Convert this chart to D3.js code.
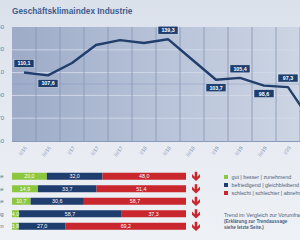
<!DOCTYPE html>
<html>
<head>
<meta charset="utf-8">
<script src="https://cdn.jsdelivr.net/npm/d3@7"></script>
<style>
  body { margin: 0; }
  svg { display: block; font-family: "Liberation Sans", Arial, sans-serif; }
</style>
</head>
<body>
<div id="chart"></div>
<script>
// Daten Linie
const periods = ["II/16", "III/16", "I/17", "II/17", "III/17", "I/18", "II/18", "III/18", "I/19", "II/19", "III/19", "I/20", "II/20"];
const indexValues = [110.1, 107.6, 118.4, 134.2, 138.5, 136.0, 139.3, 121.5, 103.7, 105.4, 98.6, 97.3, 66.0];
const labelled = ["II/16", "III/16", "II/18", "I/19", "II/19", "III/19", "I/20"];
const labelSide = ["above", "below", "above", "below", "above", "below", "above"];
const yTicks = [50, 70, 90, 110, 130, 150];

// Daten Balken
const rows = ["Geschäftslage", "Ertragslage", "Auftragslage", "Beschäftigung", "Investitionen"];
const gut = [20.0, 14.9, 10.7, 4.0, 3.8];
const befriedigend = [32.0, 33.7, 30.6, 58.7, 27.0];
const schlecht = [48.0, 51.4, 58.7, 37.3, 69.2];
const legendTexts = ["gut | besser | zunehmend", "befriedigend | gleichbleibend", "schlecht | schlechter | abnehmend"];
const colors = ["#8dc63f", "#1f3d6e", "#c9262d"];

const W = 300, H = 240;
const fmt = v => d3.format(".1f")(v).replace(".", ",");

const svg = d3.select("#chart").append("svg")
  .attr("width", W).attr("height", H);

const defs = svg.append("defs");
const bg = defs.append("linearGradient").attr("id", "bg").attr("x1", 0).attr("y1", 0).attr("x2", 0).attr("y2", 1);
bg.append("stop").attr("offset", 0).attr("stop-color", "#dbe1eb");
bg.append("stop").attr("offset", 0.5).attr("stop-color", "#e6eaf1");
bg.append("stop").attr("offset", 1).attr("stop-color", "#eef1f5");
const plotBg = defs.append("linearGradient").attr("id", "plotbg").attr("x1", 0).attr("y1", 0).attr("x2", 1).attr("y2", 0);
plotBg.append("stop").attr("offset", 0).attr("stop-color", "#9dabc8");
plotBg.append("stop").attr("offset", 0.55).attr("stop-color", "#b9c4d9");
plotBg.append("stop").attr("offset", 1).attr("stop-color", "#cdd5e4");

svg.append("rect").attr("width", W).attr("height", H).attr("fill", "url(#bg)");

// Titel
svg.append("text")
  .attr("x", 12).attr("y", 14)
  .attr("font-size", 8.3).attr("font-weight", "bold")
  .attr("fill", "#3d5d8e")
  .text("Geschäftsklimaindex Industrie");

// Skalen
const x = d3.scaleBand().domain(periods).range([12, 12 + 24 * periods.length]);
const y = d3.scaleLinear().domain([50, 150]).range([141, 27]);
const cx = d => x(d) + x.bandwidth() / 2;

// Plotfläche
svg.append("rect")
  .attr("x", 12).attr("y", 27)
  .attr("width", W - 12).attr("height", 114)
  .attr("fill", "url(#plotbg)");

// Gitter
svg.selectAll("line.hgrid")
  .data(yTicks.slice(1, -1))
  .enter().append("line")
  .attr("class", "hgrid")
  .attr("x1", 12).attr("x2", W)
  .attr("y1", d => y(d)).attr("y2", d => y(d))
  .attr("stroke", "#d3daea").attr("stroke-width", 0.9);

svg.append("line")
  .attr("x1", 12).attr("x2", W)
  .attr("y1", y(100)).attr("y2", y(100))
  .attr("stroke", "#7f93bb").attr("stroke-width", 0.6).attr("opacity", 0.7);

svg.selectAll("line.vgrid")
  .data(periods.slice(1))
  .enter().append("line")
  .attr("class", "vgrid")
  .attr("x1", d => x(d)).attr("x2", d => x(d))
  .attr("y1", 27).attr("y2", 141)
  .attr("stroke", "#8394b5").attr("stroke-width", 0.8);

svg.append("line")
  .attr("x1", 12).attr("x2", W).attr("y1", 141.5).attr("y2", 141.5)
  .attr("stroke", "#8a9aba").attr("stroke-width", 1);

// Y-Achsenbeschriftung (abgeschnitten)
svg.selectAll("text.ytick")
  .data(yTicks)
  .enter().append("text")
  .attr("class", "ytick")
  .attr("x", 4).attr("y", d => y(d))
  .attr("text-anchor", "end").attr("dominant-baseline", "middle")
  .attr("font-size", 6).attr("fill", "#6b7b99")
  .text(d => d);

// X-Achsenbeschriftung
svg.selectAll("text.xtick")
  .data(periods)
  .enter().append("text")
  .attr("class", "xtick")
  .attr("transform", d => `translate(${cx(d) + 2},147) rotate(-55)`)
  .attr("text-anchor", "end").attr("dominant-baseline", "middle")
  .attr("font-size", 5.2).attr("fill", "#8191ad")
  .text(d => d);

// Linie
const line = d3.line()
  .x((d, i) => cx(periods[i]))
  .y(d => y(d));

svg.append("path")
  .datum(indexValues)
  .attr("d", line)
  .attr("fill", "none")
  .attr("stroke", "#223f6c")
  .attr("stroke-width", 2.4)
  .attr("stroke-linejoin", "round");

// Werte-Boxen
const labelData = labelled.map((p, i) => ({ p, v: indexValues[periods.indexOf(p)], side: labelSide[i] }));
const lg = svg.selectAll("g.vlabel")
  .data(labelData)
  .enter().append("g")
  .attr("class", "vlabel")
  .attr("transform", d => `translate(${cx(d.p)},${y(d.v) + (d.side === "above" ? -9 : 8)})`);
lg.append("rect")
  .attr("x", -10).attr("y", -4)
  .attr("width", 20).attr("height", 8)
  .attr("fill", "#1e3d6d")
  .attr("stroke", "#e5eaf2").attr("stroke-width", 0.5);
lg.append("text")
  .attr("text-anchor", "middle").attr("dominant-baseline", "central")
  .attr("font-size", 5.3).attr("font-weight", "bold").attr("fill", "#ffffff")
  .text(d => fmt(d.v));

// Balken
const xb = d3.scaleLinear().domain([0, 100]).range([12, 186]);
const yb = d3.scaleBand().domain(rows).range([170, 232.5]).paddingInner(0.44).paddingOuter(0.22);
const series = [gut, befriedigend, schlecht];
const stacked = rows.flatMap((r, i) => {
  let acc = 0;
  return series.map((s, k) => {
    const seg = { row: r, k, v: s[i], x0: acc, x1: acc + s[i] };
    acc += s[i];
    return seg;
  });
});

svg.selectAll("rect.seg")
  .data(stacked)
  .enter().append("rect")
  .attr("class", "seg")
  .attr("x", d => xb(d.x0))
  .attr("y", d => yb(d.row))
  .attr("width", d => xb(d.x1) - xb(d.x0))
  .attr("height", yb.bandwidth())
  .attr("fill", d => colors[d.k]);

svg.selectAll("text.seglabel")
  .data(stacked)
  .enter().append("text")
  .attr("class", "seglabel")
  .attr("x", d => (xb(d.x0) + xb(d.x1)) / 2)
  .attr("y", d => yb(d.row) + yb.bandwidth() / 2)
  .attr("text-anchor", "middle").attr("dominant-baseline", "central")
  .attr("font-size", 5.3).attr("fill", "#ffffff")
  .text(d => fmt(d.v));

// Zeilenbeschriftung (abgeschnitten)
svg.selectAll("text.rowlabel")
  .data(rows)
  .enter().append("text")
  .attr("class", "rowlabel")
  .attr("x", 3.5).attr("y", d => yb(d) + yb.bandwidth() / 2)
  .attr("text-anchor", "end").attr("dominant-baseline", "central")
  .attr("font-size", 5.5).attr("fill", "#5a6a88")
  .text(d => d);

// Trendpfeile
const arrow = "M-1.3,-4.5 L1.3,-4.5 L1.3,0.5 L4,-2.2 L4,1 L0,4.8 L-4,1 L-4,-2.2 L-1.3,0.5 Z";
svg.selectAll("path.arrow")
  .data(rows)
  .enter().append("path")
  .attr("class", "arrow")
  .attr("d", arrow)
  .attr("transform", d => `translate(196,${yb(d) + yb.bandwidth() / 2})`)
  .attr("fill", "#c9262d");

// Legende
const leg = svg.selectAll("g.legend")
  .data(legendTexts)
  .enter().append("g")
  .attr("class", "legend")
  .attr("transform", (d, i) => `translate(224,${177 + i * 8})`);
leg.append("rect")
  .attr("x", 0).attr("y", -2).attr("width", 4).attr("height", 4)
  .attr("fill", (d, i) => colors[i]);
leg.append("text")
  .attr("x", 7.5).attr("dominant-baseline", "central")
  .attr("font-size", 5.3).attr("fill", "#4d5d7c")
  .text(d => d);

svg.append("text")
  .attr("x", 224).attr("y", 215)
  .attr("dominant-baseline", "central")
  .attr("font-size", 5.3).attr("fill", "#4d5d7c")
  .text("Trend im Vergleich zur Vorumfrage");
svg.append("text")
  .attr("x", 224).attr("y", 221.5)
  .attr("dominant-baseline", "central")
  .attr("font-size", 4.6).attr("font-weight", "bold").attr("fill", "#4d5d7c")
  .text("(Erklärung zur Trendaussage");
svg.append("text")
  .attr("x", 224).attr("y", 227.5)
  .attr("dominant-baseline", "central")
  .attr("font-size", 4.6).attr("font-weight", "bold").attr("fill", "#4d5d7c")
  .text("siehe letzte Seite.)");
</script>
</body>
</html>
